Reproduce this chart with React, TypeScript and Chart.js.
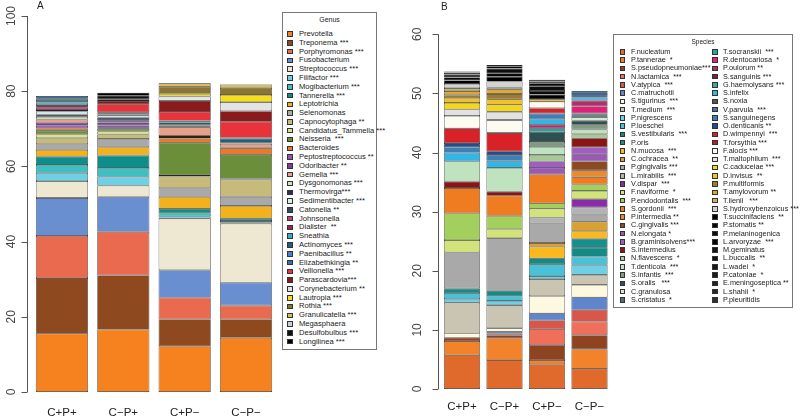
import React, { useEffect, useRef } from "react";
import { Chart, registerables } from "chart.js";

Chart.register(...registerables);

// ---------- categories ----------
const groups = ["C+P+", "C\u2212P+", "C+P\u2212", "C\u2212P\u2212"];

// ---------- panel A: genus ----------
const genusNames = [
  "Prevotella", "Treponema ***", "Porphyromonas ***", "Fusobacterium", "Streptococcus ***",
  "Filifactor ***", "Mogibacterium ***", "Tannerella ***", "Leptotrichia", "Selenomonas",
  "Capnocytophaga **", "Candidatus_Tammella ***", "Neisseria  ***", "Bacteroides", "Peptostreptococcus **",
  "Odoribacter **", "Gemella ***", "Dysgonomonas ***", "Thermovirga***", "Sedimentibacter ***",
  "Catonella **", "Johnsonella", "Dialister  **", "Sneathia", "Actinomyces ***",
  "Paenibacillus **", "Elizabethkingia **", "Veillonella ***", "Parascardovia***", "Corynebacterium **",
  "Lautropia ***", "Rothia ***", "Granulicatella ***", "Megasphaera", "Desulfobulbus ***",
  "Longilinea ***",
];
const genusColors = [
  "#F5821F", "#8E4A1E", "#EA6A4F", "#6A8FD0", "#EEE8D2",
  "#6FCFE3", "#40BFC0", "#0E8E8A", "#F2B21E", "#A9A9A9",
  "#C6BB7A", "#D9E38A", "#6B8E3A", "#EA7A25", "#9A50B0",
  "#7B3F9E", "#E8A088", "#CDE6B4", "#2E2E5E", "#D6F0F2",
  "#34495E", "#CC3A80", "#A3264F", "#2FB2C4", "#1F5F7A",
  "#4F7FC4", "#2E75A8", "#E8333A", "#8B1A1A", "#E4E4E4",
  "#F5DE1A", "#8B7530", "#D8BF5E", "#CFCFCF", "#111111",
  "#000000",
];
const genusCPP = [15.5, 14.8, 11.2, 10.1, 4.5, 2.2, 2.1, 2.2, 1.8, 1.5, 1.6, 1.0, 1.0, 0.6, 0.7, 0.8, 0.9, 0.7, 0.6, 0.8, 0.4, 0.6, 0.7, 0.7, 0.7, 0.3, 0.7, 0, 0, 0, 0, 0, 0, 0, 0, 0];
const genusCMP = [16.6, 14.4, 11.6, 9.3, 3.0, 2.4, 2.3, 3.3, 2.2, 2.2, 1.2, 0.8, 0.7, 0.3, 0.6, 0.8, 0.3, 0.3, 0.7, 0.6, 0.2, 0.2, 0.2, 0.2, 0, 0, 0, 2.1, 0.9, 0.3, 0, 0, 0, 0.2, 0.9, 0.8];
const genusCPM = [12.2, 7.1, 5.8, 7.3, 13.7, 0.6, 0.8, 1.2, 3.2, 2.3, 3.2, 0.3, 8.6, 1.2, 0.3, 0.3, 2.3, 0, 0.3, 0, 0.2, 0, 0, 0.2, 0.6, 0.2, 0.3, 2.3, 2.9, 1.2, 0.7, 1.9, 0.9, 0, 0, 0];
const genusCMM = [14.4, 4.9, 3.7, 6.1, 15.7, 0.3, 0.4, 0.6, 3.4, 2.4, 4.6, 0.2, 6.4, 1.7, 0.1, 0.1, 1.0, 0, 0.1, 0, 0, 0, 0, 0.2, 1.1, 0, 0.2, 4.3, 2.8, 2.4, 1.9, 1.9, 0.9, 0, 0, 0];
const genusTicksMax = 100;
const genusTickStep = 20;

// ---------- panel B: species ----------
const speciesNames = [
  "F.nucleatum", "P.tannerae  *", "S.pseudopneumoniae***", "N.lactamica  ***", "V.atypica  ***",
  "C.matruchotii", "S.tigurinus  ***", "T.medium  ***", "P.nigrescens", "P.loeschei",
  "S.vestibularis  ***", "P.oris", "N.mucosa  ***", "C.ochracea  **", "P.gingivalis ***",
  "L.mirabilis  ***", "V.dispar  ***", "F.naviforme  *", "P.endodontalis  ***", "S.gordonii  ***",
  "P.intermedia **", "C.gingivalis ***", "N.elongata *", "B.graminisolvens***", "S.intermedius",
  "N.flavescens  *", "T.denticola  ***", "S.infantis  ***", "S.oralis   ***", "C.granulosa",
  "S.cristatus  *",
  "T.socranskii  ***", "R.dentocariosa  *", "P.oulorum **", "S.sanguinis ***", "G.haemolysans ***",
  "S.infelix", "S.noxia", "V.parvula  ***", "S.sanguinegens", "O.denticanis **",
  "D.wimpennyi  ***", "T.forsythia ***", "F.alocis ***", "T.maltophilum  ***", "C.caduceiae ***",
  "D.invisus  **", "P.multiformis", "T.amylovorum **", "T.lienii   ***", "S.hydroxybenzoicus ***",
  "T.succinifaciens  **", "P.stomatis **", "P.melaninogenica", "L.arvoryzae  ***", "M.geminatus",
  "L.buccalis  **", "L.wadei  *", "P.catoniae  *", "E.meningoseptica **", "L.shahii  *",
  "P.pleuritidis",
];
const speciesColors = [
  "#E06A2C", "#F2832A", "#8E4420", "#EF6F5A", "#D9574A",
  "#5F86CC", "#FFF8E0", "#C9C5B2", "#6ED0E2", "#49C1D6",
  "#128A86", "#16908E", "#FBB91F", "#D9A032", "#A9A9A9",
  "#B3B3B3", "#8A2BA8", "#D2E37A", "#A3D05C", "#F07C22",
  "#E98A2E", "#8B4A20", "#9B59B6", "#A05FC0", "#8B1515",
  "#A8C898", "#BFE3BE", "#7F9C80", "#2F5050", "#D4E8D4",
  "#4E7070",
  "#24A5A3", "#E0207A", "#B0306A", "#7A1F40", "#38A8A8",
  "#33B5E5", "#555555", "#4A72A6", "#3F7FB8", "#1F4E8C",
  "#D92128", "#B22030", "#FDFAF0", "#E2E2E2", "#F5D719",
  "#F2C02A", "#A07D2E", "#D9A93A", "#C8B46E", "#D3D3D3",
  "#000000", "#080808", "#0D0D0D", "#050505", "#151515",
  "#101010", "#181818", "#1A1A1A", "#202020", "#282828",
  "#303030",
];
const speciesCPP = [
  5.7, 2.4, 0.6, 0, 0, 0, 0.7, 5.2, 0.6, 1.0,
  0.8, 0, 0, 0, 6.1, 0, 0, 2.1, 4.5, 4.3,
  0, 0, 0, 0, 1.1, 0, 3.4, 0, 0, 0,
  0,
  0, 0, 0, 0, 0, 1.5, 0, 0, 0.9,
  0.7, 2.5, 0, 2.1, 1.1, 1.1, 0.8, 0.5, 0.7, 0.5,
  0.7, 0.6, 0.5, 0.5, 0.3, 0.1, 0.1, 0, 0, 0,
  0, 0,
];
const speciesCMP = [
  4.9, 3.7, 0.5, 0.3, 0, 0.3, 0.6, 3.9, 0.7, 0.8,
  0.9, 0, 0, 0, 8.9, 0, 0, 1.6, 2.2, 3.4,
  0, 0, 0, 0, 0.7, 0, 4.0, 0, 0, 0,
  0,
  0, 0, 0, 0, 0, 1.2, 0, 0, 1.0,
  0.6, 3.1, 0, 2.2, 1.4, 1.2, 0.9, 0.9, 0.8, 0.3,
  1.0, 0.8, 0.6, 0.8, 0.4, 0.2, 0, 0, 0, 0,
  0, 0,
];
const speciesCPM = [
  4.2, 0.7, 2.5, 2.7, 1.5, 1.2, 2.9, 2.9, 0.5, 2.0,
  1.0, 0, 2.0, 0.6, 3.3, 1.0, 0, 1.5, 0.9, 4.9,
  0, 0, 1.1, 1.1, 0, 1.1, 1.3, 0.9, 1.7, 0,
  0,
  0.6, 0, 0.6, 0, 0, 0.9, 0, 0, 1.0,
  0, 0.9, 0, 1.1, 0, 0, 0.4, 0, 0, 0,
  0, 0.8, 0.6, 0.8, 0.5, 0.3, 0.3, 0, 0, 0,
  0, 0,
];
const speciesCMM = [
  3.4, 3.3, 2.4, 2.3, 2.0, 2.1, 2.1, 1.7, 1.7, 1.4,
  1.5, 1.5, 1.3, 1.6, 1.1, 1.3, 1.4, 1.4, 1.1, 1.2,
  1.2, 1.5, 1.2, 1.2, 1.5, 0.7, 0.8, 0.8, 0.7, 0.6,
  0.3,
  0.3, 1.2, 1.0, 0, 0, 0.5, 0, 0.6, 0.5,
  0, 0, 0, 0, 0, 0, 0, 0, 0, 0,
  0, 0, 0, 0, 0, 0, 0, 0, 0, 0,
  0, 0,
];
const speciesTicksMax = 60;
const speciesTickStep = 10;

// ---------- R-like axis line plugin ----------
const rAxis = {
  id: "rAxis",
  afterDraw(chart: any, _args: any, opts: any) {
    const { ctx, chartArea } = chart;
    const y = chart.scales.y;
    const x0 = Math.round(chartArea.left - opts.gap) + 0.5;
    ctx.save();
    ctx.strokeStyle = "#555";
    ctx.lineWidth = 1;
    ctx.beginPath();
    ctx.moveTo(x0, y.getPixelForValue(y.max));
    ctx.lineTo(x0, y.getPixelForValue(y.min));
    y.ticks.forEach((t: any) => {
      const py = Math.round(y.getPixelForValue(t.value)) + 0.5;
      ctx.moveTo(x0, py);
      ctx.lineTo(x0 - 6, py);
    });
    ctx.stroke();
    ctx.restore();
  },
};

type PanelProps = {
  left: number;
  width: number;
  names: string[];
  colors: string[];
  series: number[][];
  yMax: number;
  step: number;
  gap: number;
  yWidth: number;
  xHeight: number;
  padTop: number;
  padRight: number;
  yTickPad: number;
  xTickPad: number;
};

function BarPanel(p: PanelProps) {
  const ref = useRef<HTMLCanvasElement>(null);
  useEffect(() => {
    const datasets = p.names.map((n, i) => ({
      label: n,
      data: p.series.map((s) => s[i]),
      backgroundColor: p.colors[i],
      borderColor: "#262626",
      borderWidth: 0.65,
      borderSkipped: false as const,
      categoryPercentage: 0.85,
      barPercentage: 1,
      inflateAmount: 0,
    }));
    const chart = new Chart(ref.current as HTMLCanvasElement, {
      type: "bar",
      data: { labels: groups, datasets },
      plugins: [rAxis],
      options: {
        responsive: false,
        devicePixelRatio: 1,
        animation: false,
        layout: { padding: { top: p.padTop, right: p.padRight, left: 0, bottom: 0 } },
        plugins: {
          legend: { display: false },
          tooltip: { enabled: false },
          // @ts-ignore
          rAxis: { gap: p.gap },
        },
        scales: {
          x: {
            stacked: true,
            grid: { display: false, drawTicks: false },
            border: { display: false },
            ticks: {
              color: "#222",
              font: { family: "Arial, 'Liberation Sans', sans-serif", size: 11.5 },
              padding: p.xTickPad,
              maxRotation: 0,
              autoSkip: false,
            },
            afterFit: (s: any) => {
              s.height = p.xHeight;
              s.paddingLeft = 0;
              s.paddingRight = 0;
            },
          },
          y: {
            stacked: true,
            min: 0,
            max: p.yMax,
            grid: { display: false, drawTicks: false },
            border: { display: false },
            ticks: {
              stepSize: p.step,
              minRotation: 90,
              maxRotation: 90,
              crossAlign: "center",
              padding: p.yTickPad,
              color: "#444",
              autoSkip: false,
              font: { family: "Arial, 'Liberation Sans', sans-serif", size: 12 },
            },
            afterFit: (s: any) => {
              s.width = p.yWidth;
              s.paddingTop = 0;
              s.paddingBottom = 0;
            },
          },
        },
      },
    });
    return () => chart.destroy();
  }, []);
  return (
    <canvas
      ref={ref}
      width={p.width}
      height={418}
      style={{ position: "absolute", left: p.left, top: 0, width: p.width, height: 418, display: "block" }}
    />
  );
}

const legendFont = "Arial, 'Liberation Sans', sans-serif";

function LegendEntry(props: { x: number; y: number; textX: number; color: string; text: string; size: number }) {
  const { x, y, textX, color, text, size } = props;
  return (
    <>
      <div
        style={{
          position: "absolute",
          left: x,
          top: y - 2.7,
          width: 5.5,
          height: 5.5,
          background: color,
          border: "0.8px solid #333",
          boxSizing: "border-box",
        }}
      />
      <div
        style={{
          position: "absolute",
          left: textX,
          top: y - 5,
          height: 10,
          lineHeight: "10px",
          fontSize: size,
          fontFamily: legendFont,
          color: "#1a1a1a",
          whiteSpace: "pre",
        }}
      >
        {text}
      </div>
    </>
  );
}

export default function App() {
  const splitB = 31;
  return (
    <div style={{ position: "absolute", left: 0, top: 0, width: 800, height: 418, background: "#fff", overflow: "hidden" }}>
      <BarPanel
        left={0}
        width={280}
        names={genusNames}
        colors={genusColors}
        series={[genusCPP, genusCMP, genusCPM, genusCMM]}
        yMax={genusTicksMax}
        step={genusTickStep}
        gap={4.3}
        yWidth={31.3}
        xHeight={26}
        padTop={16}
        padRight={3.3}
        yTickPad={9.3}
        xTickPad={14}
      />
      <BarPanel
        left={390}
        width={225}
        names={speciesNames}
        colors={speciesColors}
        series={[speciesCPP, speciesCMP, speciesCPM, speciesCMM]}
        yMax={speciesTicksMax}
        step={speciesTickStep}
        gap={2.75}
        yWidth={50.75}
        xHeight={29}
        padTop={34.3}
        padRight={4.25}
        yTickPad={16}
        xTickPad={11}
      />
      <div style={{ position: "absolute", left: 37, top: 0, fontSize: 10, fontFamily: legendFont, color: "#222" }}>A</div>
      <div style={{ position: "absolute", left: 441, top: 1, fontSize: 10, fontFamily: legendFont, color: "#222" }}>B</div>

      {/* Legend A */}
      <div
        style={{
          position: "absolute",
          left: 282,
          top: 12,
          width: 95,
          height: 338,
          border: "1px solid #777",
          boxSizing: "border-box",
          background: "#fff",
        }}
      />
      <div
        style={{
          position: "absolute",
          left: 282,
          top: 15,
          width: 95,
          textAlign: "center",
          fontSize: 7,
          fontFamily: legendFont,
          color: "#222",
          lineHeight: "10px",
        }}
      >
        Genus
      </div>
      {genusNames.map((n, i) => (
        <LegendEntry key={"g" + i} x={287.3} y={34 + i * 8.79} textX={299} color={genusColors[i]} text={n} size={7.6} />
      ))}

      {/* Legend B */}
      <div
        style={{
          position: "absolute",
          left: 613,
          top: 34,
          width: 180,
          height: 274,
          border: "1px solid #777",
          boxSizing: "border-box",
          background: "#fff",
        }}
      />
      <div
        style={{
          position: "absolute",
          left: 613,
          top: 37,
          width: 180,
          textAlign: "center",
          fontSize: 6.5,
          fontFamily: legendFont,
          color: "#222",
          lineHeight: "10px",
        }}
      >
        Species
      </div>
      {speciesNames.map((n, i) => {
        const col = i < splitB ? 0 : 1;
        const row = col === 0 ? i : i - splitB;
        return (
          <LegendEntry
            key={"s" + i}
            x={col === 0 ? 619.5 : 712}
            y={51.7 + row * 8.27}
            textX={col === 0 ? 631 : 723}
            color={speciesColors[i]}
            text={n}
            size={7.3}
          />
        );
      })}
    </div>
  );
}
